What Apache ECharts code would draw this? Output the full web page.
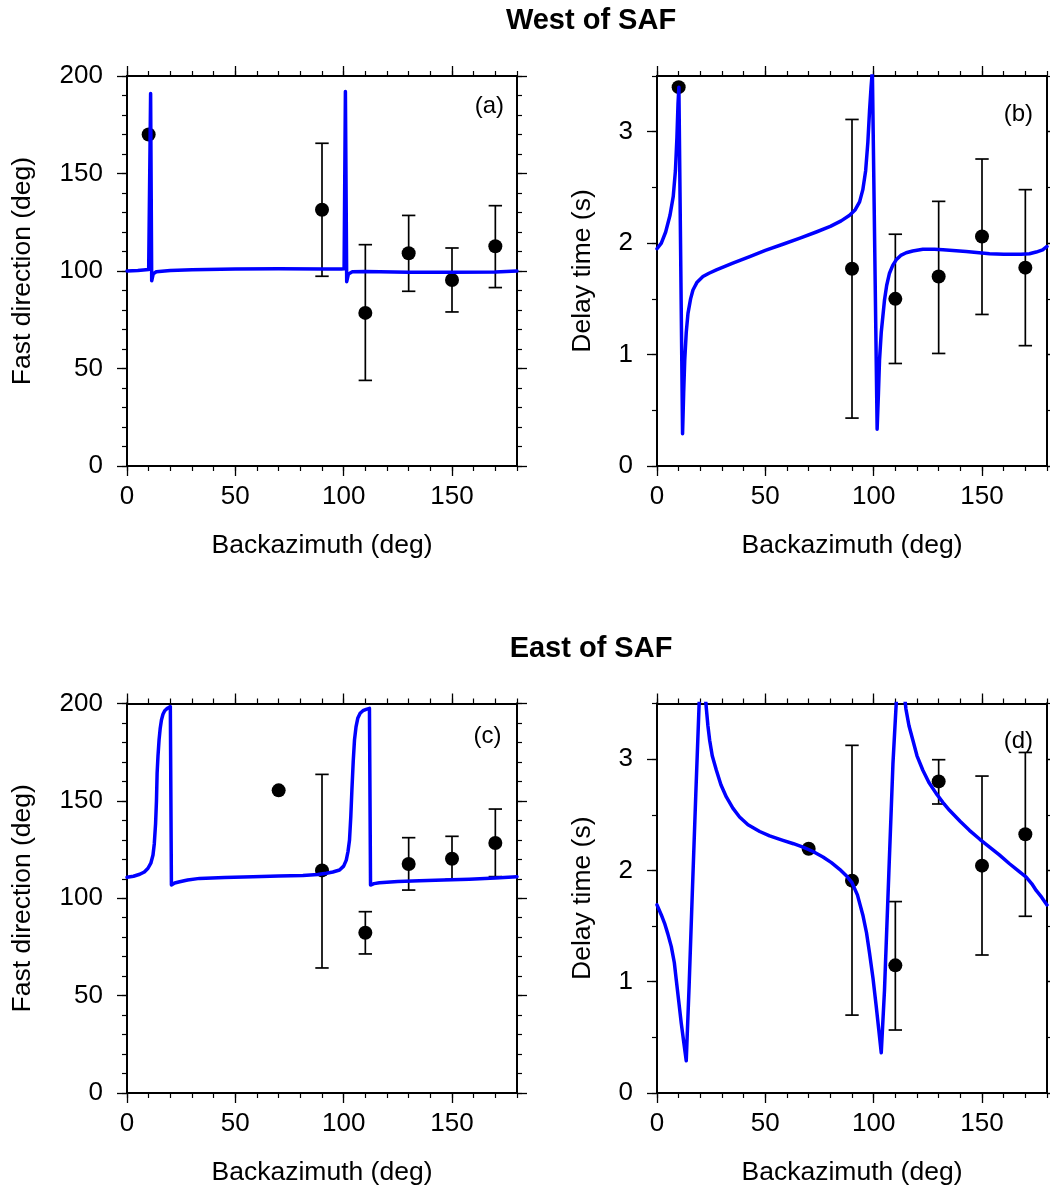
<!DOCTYPE html>
<html>
<head>
<meta charset="utf-8">
<script src="https://cdn.jsdelivr.net/npm/echarts@6/dist/echarts.min.js"></script>
<style>
html,body{margin:0;padding:0;background:#fff;}
#chart{width:1050px;height:1190px;}
</style>
</head>
<body>
<div id="chart"></div>
<script>
// ---------- data ----------
const xTickLabels = [0, 50, 100, 150];
const fastTickLabels = [0, 50, 100, 150, 200];
const delayTickLabels = [0, 1, 2, 3];

const titleWest = 'West of SAF';
const titleEast = 'East of SAF';
const xName = 'Backazimuth (deg)';
const fastName = 'Fast direction (deg)';
const delayName = 'Delay time (s)';

// (a) West, fast direction
const aCurveX = [0, 5, 10, 10.4, 10.9, 11.4, 12.1, 13.5, 20, 30, 50, 70, 90, 99, 100.2, 100.8, 101.4, 102.2, 104, 110, 130, 150, 170, 180];
const aCurveY = [100, 100.3, 100.8, 101, 191, 95, 98.5, 99.6, 100.3, 100.6, 101, 101.2, 101, 101, 101.2, 192, 94.5, 98.5, 99.6, 99.8, 99.4, 99.3, 99.5, 100];
const aPtX = [10, 90, 110, 130, 150, 170];
const aPtY = [170, 131.4, 78.5, 109.1, 95.4, 112.7];
const aErrX = [90, 110, 130, 150, 170];
const aErrLow = [97.3, 43.9, 89.6, 79, 91.5];
const aErrHigh = [165.5, 113.5, 128.5, 111.8, 133.5];

// (b) West, delay time
const bCurveX = [0, 2, 4, 6, 7.5, 8.5, 9.2, 9.7, 10.1, 11.8, 12.3, 12.8, 13.5, 14.3, 15.5, 16.6, 18.5, 21.2, 24, 27.4, 35, 42.8, 50, 58.1, 66, 73.5, 80, 85, 88.9, 91.5, 93.5, 95, 96.3, 97.3, 98.1, 98.8, 99.4,
  101.6, 102.2, 102.7, 103.5, 105, 106, 107.3, 108.8, 110.4, 112.5, 115, 118, 122.7, 128, 132, 142.7, 153.5, 160, 164.2, 168, 171.9, 175, 178, 180];
const bCurveY = [1.95, 2.0, 2.1, 2.25, 2.42, 2.65, 2.95, 3.25, 3.40, 0.29, 0.65, 0.95, 1.2, 1.37, 1.5, 1.58, 1.65, 1.70, 1.73, 1.76, 1.82, 1.88, 1.935, 1.99, 2.045, 2.10, 2.15, 2.2, 2.25, 2.3, 2.37, 2.48, 2.65, 2.9, 3.19, 3.4, 3.55,
  0.33, 0.65, 0.95, 1.2, 1.49, 1.62, 1.73, 1.80, 1.85, 1.89, 1.914, 1.93, 1.945, 1.945, 1.94, 1.925, 1.905, 1.9, 1.90, 1.90, 1.905, 1.92, 1.94, 1.97];
const bPtX = [10, 90, 110, 130, 150, 170];
const bPtY = [3.40, 1.77, 1.50, 1.70, 2.06, 1.78];
const bErrX = [90, 110, 130, 150, 170];
const bErrLow = [0.43, 0.92, 1.01, 1.36, 1.08];
const bErrHigh = [3.11, 2.08, 2.375, 2.755, 2.48];

// (c) East, fast direction
const cCurveX = [0, 3, 5.9, 8, 9.7, 11, 12.0, 12.6, 13.2, 13.6, 13.9, 14.3, 14.8, 15.3, 15.9, 16.6, 17.4, 18.7, 20.0,
  20.5, 22, 24.3, 28, 33.5, 45, 58.1, 70, 81.2, 88, 92, 95, 98.1, 100, 101.2, 102, 102.7, 103.3, 103.8, 104.4, 105, 105.7, 106.5, 107.6, 108.9, 110.4, 111.9,
  112.4, 114, 116.5, 125, 135, 146, 158, 170, 180];
const cCurveY = [110.8, 111.3, 112.3, 113.5, 115.4, 118, 122.2, 128, 138.5, 150, 164.2, 173, 181.3, 187, 191.5, 194.5, 196.3, 197.6, 198.4,
  106.8, 107.8, 108.5, 109.4, 110.2, 110.7, 111.1, 111.4, 111.7, 112.2, 112.8, 113.5, 114.5, 116.5, 119.6, 124, 129.9, 142, 155.6, 170, 181.3, 188, 192.4, 195, 196.3, 197, 197.5,
  106.8, 107.5, 108, 108.6, 109, 109.4, 109.8, 110.4, 111.1];
const cPtX = [70, 90, 110, 130, 150, 170];
const cPtY = [155.4, 114.3, 82.3, 117.6, 120.3, 128.4];
const cErrX = [90, 110, 130, 150, 170];
const cErrLow = [64.2, 71.4, 104.2, 109.7, 111.1];
const cErrHigh = [163.6, 93.1, 131.1, 131.8, 145.8];

// (d) East, delay time
const dCurveX = [0, 2, 3.5, 5, 6.6, 8, 8.9, 10, 11.2, 12.4, 13.5, 14.8, 16.3, 17.9, 20.4,
  22.8, 23.5, 24.3, 25.5, 27.4, 29.5, 32, 35, 38.1, 42, 47.4, 52, 58.1, 63, 67.4, 72, 76.6, 80.5, 84.3, 87.5, 90, 92.5, 95, 96.7, 98.1, 99.7, 101.2, 102.4, 103.5,
  105, 107, 108.9, 111.8,
  114.9, 116.3, 118.1, 120, 122.7, 125.5, 128.9, 132, 135, 140, 144.2, 149, 153.5, 158, 162.7, 166.5, 170.4, 173, 175, 177.5, 180];
const dCurveY = [1.69, 1.6, 1.525, 1.43, 1.315, 1.17, 1.015, 0.83, 0.626, 0.45, 0.29, 0.95, 1.80, 2.68, 4.0,
  3.45, 3.3, 3.17, 3.03, 2.90, 2.77, 2.66, 2.56, 2.48, 2.41, 2.35, 2.31, 2.27, 2.24, 2.21, 2.17, 2.12, 2.07, 2.01, 1.95, 1.89, 1.78, 1.6, 1.44, 1.255, 1.03, 0.775, 0.56, 0.362,
  0.925, 1.974, 2.96, 4.0,
  3.45, 3.3, 3.17, 3.03, 2.90, 2.79, 2.69, 2.61, 2.54, 2.44, 2.36, 2.28, 2.21, 2.14, 2.06, 2.0, 1.94, 1.88, 1.82, 1.76, 1.69];
const dPtX = [70, 90, 110, 130, 150, 170];
const dPtY = [2.195, 1.908, 1.147, 2.80, 2.043, 2.325];
const dErrX = [90, 110, 130, 150, 170];
const dErrLow = [0.70, 0.566, 2.597, 1.24, 1.588];
const dErrHigh = [3.124, 1.72, 2.995, 2.848, 3.06];

// ---------- chart ----------
const FONT = '"Liberation Sans", Helvetica, Arial, sans-serif';
const zip2 = (a, b) => a.map((v, i) => [v, b[i]]);
const zip3 = (a, b, c) => a.map((v, i) => [v, b[i], c[i]]);

const panels = [
  { label: '(a)', left: 127, top: 76, h: 390, yMax: 200, yMinor: 10, yTicks: fastTickLabels, yName: fastName, yGap: 91,
    lx: 504, ly: 106.5, cx: aCurveX, cy: aCurveY, px: aPtX, py: aPtY, ex: aErrX, el: aErrLow, eh: aErrHigh },
  { label: '(b)', left: 657, top: 76, h: 390, yMax: 3.5, yMinor: 0.5, yTicks: delayTickLabels, yName: delayName, yGap: 61,
    lx: 1033, ly: 114, cx: bCurveX, cy: bCurveY, px: bPtX, py: bPtY, ex: bErrX, el: bErrLow, eh: bErrHigh },
  { label: '(c)', left: 127, top: 703.5, h: 389.5, yMax: 200, yMinor: 10, yTicks: fastTickLabels, yName: fastName, yGap: 91,
    lx: 501.5, ly: 736.7, cx: cCurveX, cy: cCurveY, px: cPtX, py: cPtY, ex: cErrX, el: cErrLow, eh: cErrHigh },
  { label: '(d)', left: 657, top: 703.5, h: 389.5, yMax: 3.5, yMinor: 0.5, yTicks: delayTickLabels, yName: delayName, yGap: 61,
    lx: 1033, ly: 741, cx: dCurveX, cy: dCurveY, px: dPtX, py: dPtY, ex: dErrX, el: dErrLow, eh: dErrHigh }
];

const grids = [], xAxes = [], yAxes = [], series = [], graphics = [];
const lineCol = '#000';

function axisBase(extra) {
  return Object.assign({
    type: 'value',
    splitLine: { show: false },
    axisLine: { show: true, onZero: false, lineStyle: { color: lineCol, width: 2 } },
    axisLabel: { show: false },
    axisTick: { show: true, inside: false, length: 5, lineStyle: { color: lineCol, width: 1.2 } }
  }, extra);
}

panels.forEach((p, i) => {
  const gMaj = grids.length;
  grids.push({ left: p.left, top: p.top, width: 390, height: p.h, containLabel: false });
  const gMin = grids.length;
  grids.push({ left: p.left, top: p.top, width: 390, height: p.h, containLabel: false });

  const xMajIdx = xAxes.length;
  xAxes.push(axisBase({
    gridIndex: gMaj, position: 'bottom', min: 0, max: 180, interval: 50,
    axisTick: { show: true, length: 10, customValues: xTickLabels, lineStyle: { color: lineCol, width: 1.3 } },
    axisLabel: { show: true, customValues: xTickLabels, margin: 18, fontSize: 26, color: '#000', fontFamily: FONT },
    name: xName, nameLocation: 'middle', nameGap: 66,
    nameTextStyle: { fontSize: 26.5, color: '#000', fontFamily: FONT }
  }));
  xAxes.push(axisBase({
    gridIndex: gMaj, position: 'top', min: 0, max: 180, interval: 50,
    axisTick: { show: true, length: 10, customValues: xTickLabels, lineStyle: { color: lineCol, width: 1.3 } }
  }));
  xAxes.push(axisBase({ gridIndex: gMin, position: 'bottom', min: 0, max: 180, interval: 10 }));
  xAxes.push(axisBase({ gridIndex: gMin, position: 'top', min: 0, max: 180, interval: 10 }));

  const yMajIdx = yAxes.length;
  yAxes.push(axisBase({
    gridIndex: gMaj, position: 'left', min: 0, max: p.yMax, interval: p.yTicks[1] - p.yTicks[0],
    axisTick: { show: true, length: 10, customValues: p.yTicks, lineStyle: { color: lineCol, width: 1.3 } },
    axisLabel: { show: true, customValues: p.yTicks, margin: 24, fontSize: 26, color: '#000', fontFamily: FONT },
    name: p.yName, nameLocation: 'middle', nameGap: p.yGap,
    nameTextStyle: { fontSize: 26.5, color: '#000', fontFamily: FONT }
  }));
  yAxes.push(axisBase({
    gridIndex: gMaj, position: 'right', min: 0, max: p.yMax, interval: p.yTicks[1] - p.yTicks[0],
    axisTick: { show: true, length: 10, customValues: p.yTicks, lineStyle: { color: lineCol, width: 1.3 } }
  }));
  yAxes.push(axisBase({ gridIndex: gMin, position: 'left', min: 0, max: p.yMax, interval: p.yMinor }));
  yAxes.push(axisBase({ gridIndex: gMin, position: 'right', min: 0, max: p.yMax, interval: p.yMinor }));

  series.push({
    type: 'custom', xAxisIndex: xMajIdx, yAxisIndex: yMajIdx, z: 2, silent: true,
    data: zip3(p.ex, p.el, p.eh),
    encode: { x: 0, y: [1, 2] },
    renderItem: function (params, api) {
      const x = api.value(0), lo = api.value(1), hi = api.value(2);
      const a = api.coord([x, hi]), b = api.coord([x, lo]);
      const w = 6.7;
      const st = { stroke: '#000', lineWidth: 1.7 };
      return {
        type: 'group', children: [
          { type: 'line', shape: { x1: a[0], y1: a[1], x2: b[0], y2: b[1] }, style: st },
          { type: 'line', shape: { x1: a[0] - w, y1: a[1], x2: a[0] + w, y2: a[1] }, style: st },
          { type: 'line', shape: { x1: b[0] - w, y1: b[1], x2: b[0] + w, y2: b[1] }, style: st }
        ]
      };
    }
  });
  series.push({
    type: 'scatter', xAxisIndex: xMajIdx, yAxisIndex: yMajIdx, z: 3, silent: true,
    symbol: 'circle', symbolSize: 14, itemStyle: { color: '#000', opacity: 1 },
    data: zip2(p.px, p.py)
  });
  series.push({
    type: 'line', xAxisIndex: xMajIdx, yAxisIndex: yMajIdx, z: 4, silent: true,
    showSymbol: false, symbol: 'none', clip: true, smooth: false,
    lineStyle: { color: '#0000ff', width: 3.5, join: 'round', cap: 'round' },
    data: zip2(p.cx, p.cy)
  });

  graphics.push({
    type: 'text', x: p.lx, y: p.ly, silent: true,
    style: { text: p.label, fontSize: 24, fontFamily: FONT, fill: '#000', align: 'right', verticalAlign: 'middle' }
  });
});

graphics.push({
  type: 'text', x: 591, y: 21, silent: true,
  style: { text: titleWest, fontSize: 29, fontWeight: 'bold', fontFamily: FONT, fill: '#000', align: 'center', verticalAlign: 'middle' }
});
graphics.push({
  type: 'text', x: 591, y: 649, silent: true,
  style: { text: titleEast, fontSize: 29, fontWeight: 'bold', fontFamily: FONT, fill: '#000', align: 'center', verticalAlign: 'middle' }
});

const chart = echarts.init(document.getElementById('chart'), null, { renderer: 'canvas' });
chart.setOption({
  animation: false,
  backgroundColor: '#fff',
  grid: grids,
  xAxis: xAxes,
  yAxis: yAxes,
  series: series,
  graphic: graphics
});
</script>
</body>
</html>
